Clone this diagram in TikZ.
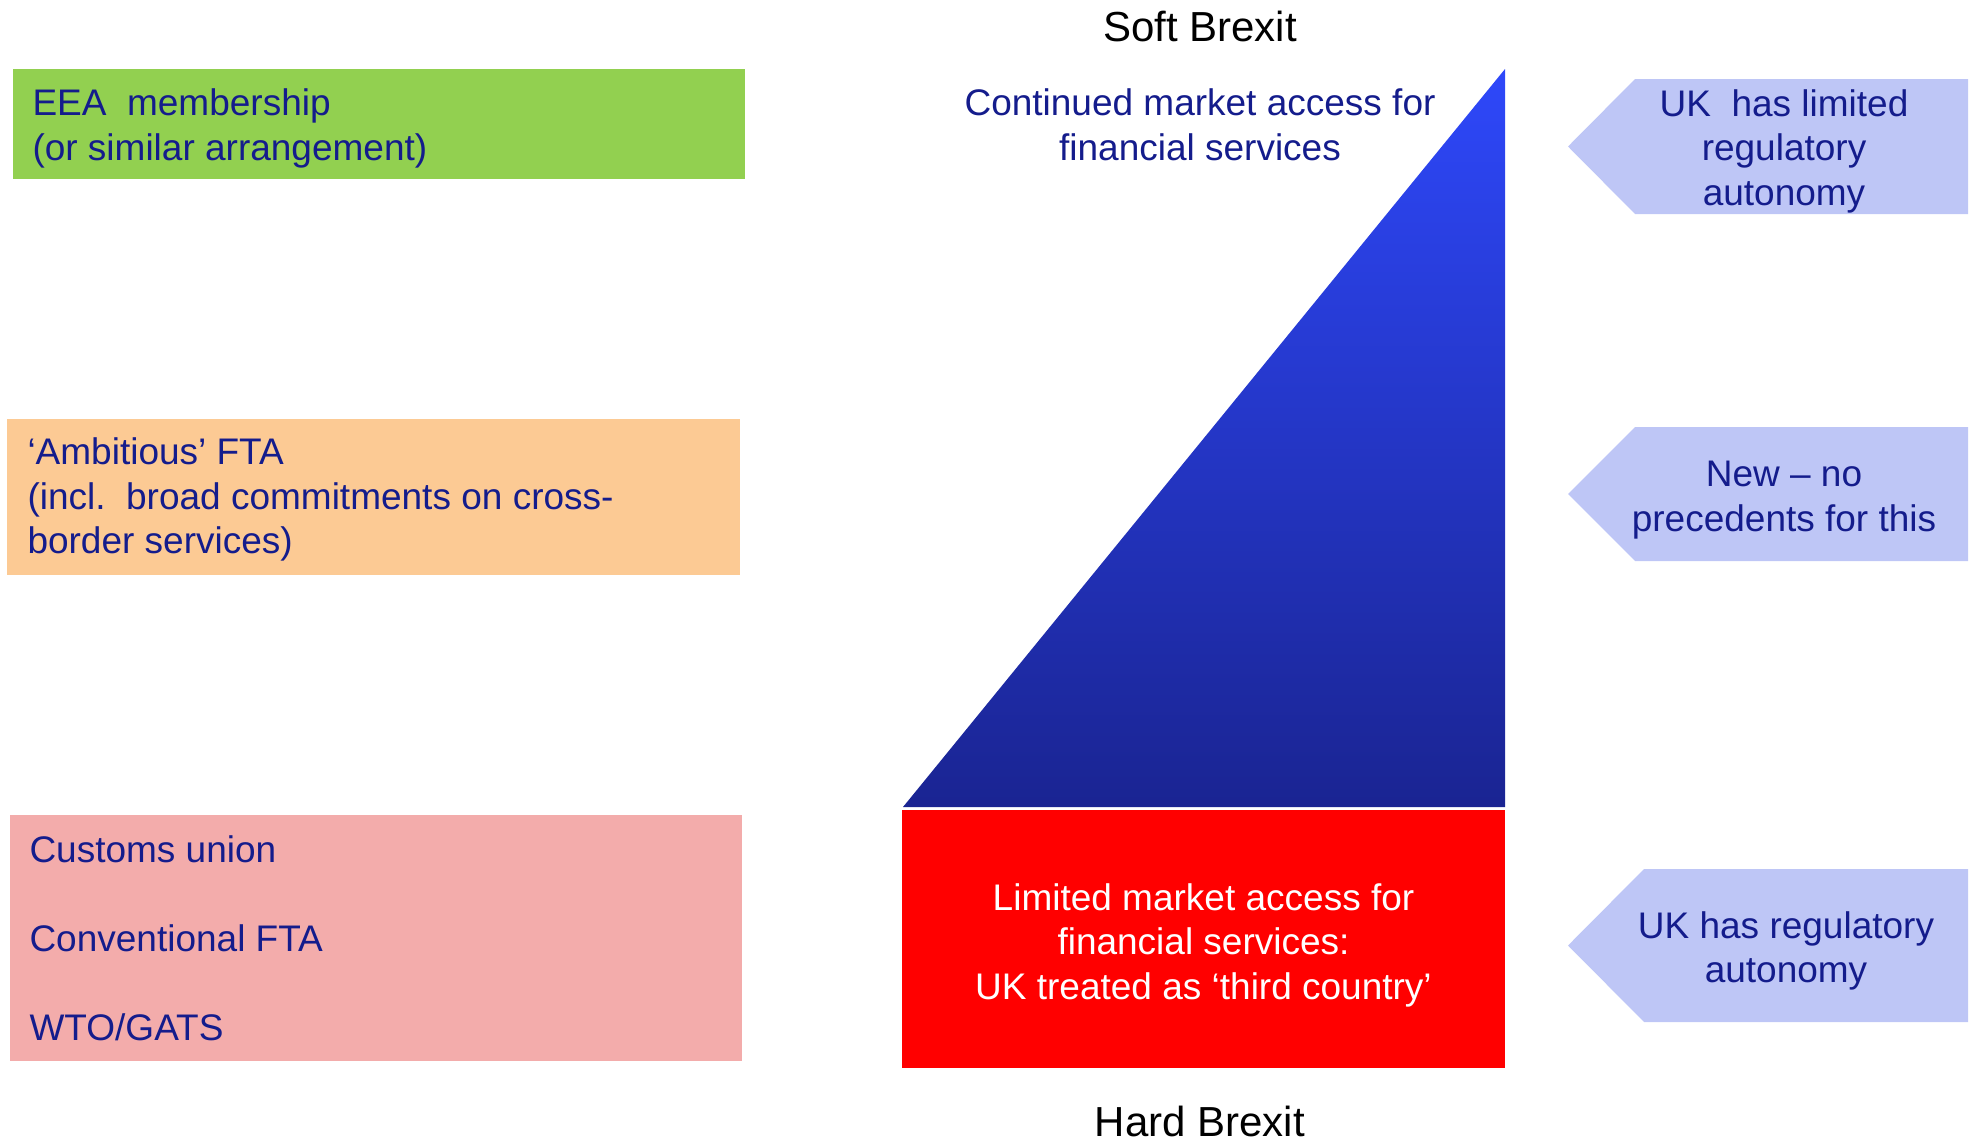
\documentclass[tikz,border=0pt]{standalone}
\usepackage{fontspec}
\setmainfont{Liberation Sans}
\definecolor{navy}{RGB}{20,28,140}
\definecolor{eeagreen}{RGB}{146,208,80}
\definecolor{ftaorange}{RGB}{252,202,148}
\definecolor{cupink}{RGB}{243,172,171}
\definecolor{tagblue}{RGB}{190,198,246}
\definecolor{softblue}{RGB}{46,72,250}
\definecolor{hardblue}{RGB}{26,36,146}

\begin{document}
\begin{tikzpicture}[x=1pt, y=-1pt,
    txt/.style={text=navy, font=\fontsize{37}{44.5}\selectfont},
    title/.style={font=\fontsize{42}{50}\selectfont},
    optbox/.style={anchor=north west, minimum width=#1},
    opttxt/.style={txt, anchor=west, align=left}]
      \useasboundingbox (0,0) rectangle (1973,1141);
      \node[title] (soft) at (1200,26) {Soft Brexit};
      \node[title] (hard) at (1200,1121) {Hard Brexit};
      % options on the left
      \node[optbox=732pt, minimum height=110pt, fill=eeagreen] (eea) at (13,69) {};
      \node[opttxt] (eeatxt) at ([xshift=16pt, yshift=-4pt]eea.west)
        {EEA\ \ membership\\(or similar arrangement)};
      \node[optbox=733pt, minimum height=156pt, fill=ftaorange] (fta) at (7,419) {};
      \node[opttxt] (ftatxt) at ([xshift=17pt, yshift=-2.5pt]fta.west)
        {‘Ambitious’ FTA\\(incl.\ \ broad commitments on cross-\\border services)};
      \node[optbox=732pt, minimum height=246pt, fill=cupink] (cu) at (10,815) {};
      \node[opttxt] (cutxt) at ([xshift=16pt]cu.west)
        {Customs union\\[44.5pt]Conventional FTA\\[44.5pt]WTO/GATS};
      % access scale
      \shade[top color=softblue, bottom color=hardblue]
        (903,807) -- (1505,69) -- (1505,807) -- cycle;
      \node[txt, align=center] (access) at (1200,125)
        {Continued market access for\\financial services};
      \node[fill=red, minimum width=603pt, minimum height=258pt] (third) at (1203.5,939) {};
      \node[text=white, font=\fontsize{37}{44.5}\selectfont, align=center]
        (thirdtxt) at ([yshift=-6pt]third.center)
        {Limited market access for\\financial services:\\UK treated as ‘third country’};
      % autonomy tags
      \foreach \t/\b/\d in {79/214/67, 427/561/67, 869/1022/76}
        \fill[tagblue] (1568,{(\t+\b)/2}) -- (1568+\d,\t) -- (1968,\t)
          -- (1968,\b) -- (1568+\d,\b) -- cycle;
      \node[txt, align=center] (limited) at (1784,151)
        {UK\ \ has limited\\regulatory\\autonomy};
      \node[txt, align=center] (noprec) at (1784,500)
        {New – no\\precedents for this};
      \node[txt, align=center] (autonomy) at (1786,951)
        {UK has regulatory\\autonomy};
    \end{tikzpicture}
\end{document}
